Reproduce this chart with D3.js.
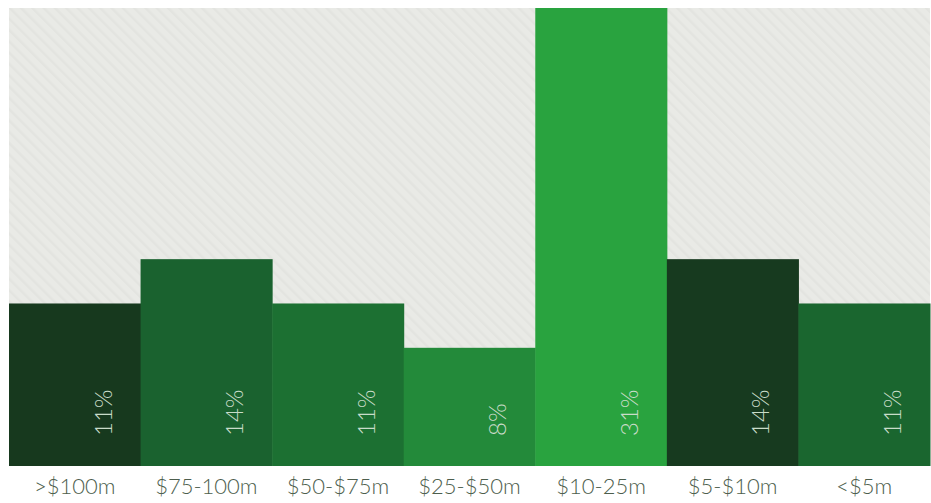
<!DOCTYPE html>
<html><head><meta charset="utf-8">
<script src="https://cdn.jsdelivr.net/npm/d3@7"></script>
<style>body{margin:0;background:#fff;}svg{display:block;}</style>
</head><body>
<script>
const categories = [">$100m","$75-100m","$50-$75m","$25-$50m","$10-25m","$5-$10m","<$5m"];
const values = [11,14,11,8,31,14,11];
const colors = ["#17391e","#1a622f","#1c7032","#238a3a","#29a33f","#173a1f","#1a662f"];

const W=931,H=503;
const mLeft=9,mRight=930,mTop=8,mBottom=466;
const svg=d3.select("body").append("svg").attr("width",W).attr("height",H);
const defs=svg.append("defs");
const pat=defs.append("pattern").attr("id","stripes").attr("patternUnits","userSpaceOnUse")
  .attr("width",8).attr("height",8).attr("patternTransform","rotate(-45)");
pat.append("rect").attr("width",8).attr("height",8).attr("fill","#e9eae6");
pat.append("rect").attr("width",2.5).attr("height",8).attr("fill","#e3e4e0");

svg.append("rect").attr("x",mLeft).attr("y",mTop).attr("width",mRight-mLeft).attr("height",mBottom-mTop).attr("fill","url(#stripes)");

const x=d3.scaleBand().domain(categories).range([mLeft,mRight]).padding(0);
const y=d3.scaleLinear().domain([0,31]).range([mBottom,mTop]);

svg.selectAll("rect.bar").data(values).join("rect").attr("class","bar")
  .attr("x",(d,i)=>x(categories[i])).attr("width",x.bandwidth()+0.5)
  .attr("y",d=>y(d)).attr("height",d=>mBottom-y(d))
  .attr("fill",(d,i)=>colors[i]);

svg.selectAll("text.val").data(values).join("text").attr("class","val")
  .attr("transform",(d,i)=>`translate(${x(categories[i])+x.bandwidth()-29},436) rotate(-90)`)
  .attr("font-family","Lato, 'Open Sans', sans-serif").attr("font-weight",300)
  .attr("font-size",24).attr("fill","#c9dcc9").text(d=>d+"%");

const xAxis=svg.append("g").attr("transform",`translate(0,${mBottom})`)
  .call(d3.axisBottom(x).tickSize(0).tickPadding(12));
xAxis.select(".domain").remove();
xAxis.selectAll("text").attr("font-family","Lato, 'Open Sans', sans-serif").attr("font-weight",300)
  .attr("font-size",22).attr("fill","#4d5e4d").attr("dy","0.71em");
</script>
</body></html>
